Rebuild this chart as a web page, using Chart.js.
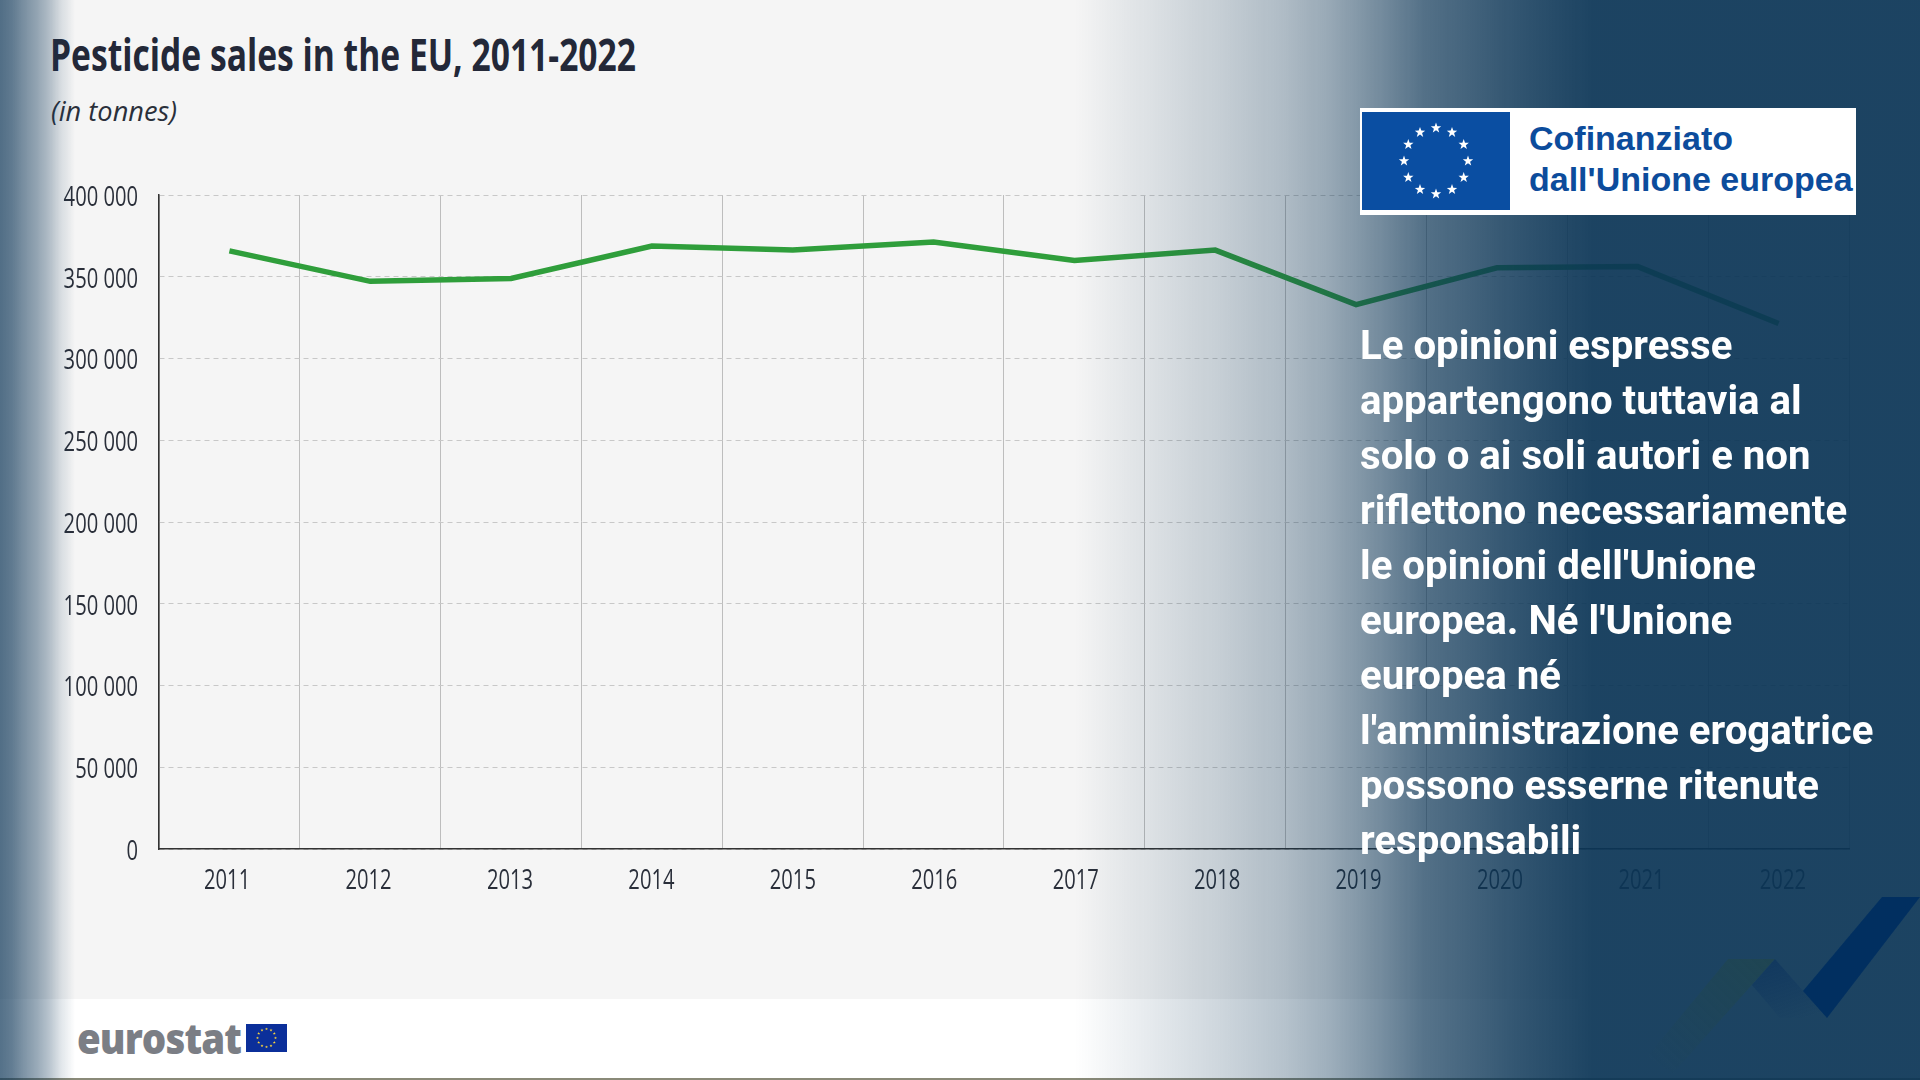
<!DOCTYPE html>
<html lang="en">
<head>
  <meta charset="UTF-8" />
  <title>Pesticide sales in the EU, 2011-2022</title>
  <script src="https://cdn.jsdelivr.net/npm/chart.js"></script>
  <style>
    html, body { margin: 0; padding: 0; }
    body { position: relative; width: 1920px; height: 1080px; overflow: hidden; background: #f5f5f5; }
    .abs { position: absolute; white-space: nowrap; }
    #footer { left: 0; top: 999px; width: 1920px; height: 79px; background: #fff; }
    #strip { left: 0; top: 1078px; width: 1920px; height: 2px; background: #8a8a78; }
    #title { left: 50px; top: 24px; font: bold 44px "Open Sans", sans-serif; color: #232838; transform-origin: 0 0; }
    #sub { left: 51px; top: 92px; font: italic 27px "Open Sans", sans-serif; color: #2a2f3a; transform-origin: 0 0; }
    #wrap { left: 0; top: 0; width: 1920px; height: 1080px; }
    #fadeRight { left: 0; top: 0; width: 1920px; height: 1080px;
      background: linear-gradient(90deg,
        rgba(11,53,86,0) 1075px, rgba(11,53,86,.2) 1219px, rgba(11,53,86,.30) 1285px,
        rgba(11,53,86,.40) 1330px, rgba(11,53,86,.55) 1380px, rgba(11,53,86,.69) 1424px,
        rgba(11,53,86,.84) 1518px, rgba(11,53,86,.93) 1593px, rgba(11,53,86,.93) 1920px); }
    #fadeLeft { left: 0; top: 0; width: 80px; height: 1080px;
      background: linear-gradient(90deg,
        rgba(18,58,91,.72) 0, rgba(18,58,91,.66) 12px, rgba(18,58,91,.54) 24px,
        rgba(18,58,91,.43) 37px, rgba(18,58,91,.30) 49px, rgba(18,58,91,.13) 61px, rgba(18,58,91,0) 75px); }
    #arrow { left: 0; top: 0; }
    #cofund { left: 1360px; top: 108px; width: 496px; height: 107px; background: #fff; }
    #cofund svg { position: absolute; left: 2px; top: 4px; }
    #cofund div { position: absolute; left: 169px; font: bold 34px "Liberation Sans", Arial, sans-serif; color: #0c4c9c; white-space: nowrap; }
    #note { left: 1360px; top: 318px; font: bold 40.2px/55px Roboto, sans-serif; color: #fff; }
    #brand { left: 77px; top: 1009px; font: 800 42px "Open Sans", sans-serif; color: #7b7e85; transform-origin: 0 0; letter-spacing: -1px; }
    #brandFlag { left: 246px; top: 1024px; }
  </style>
</head>
<body>
  <div class="abs" id="footer"></div>
  <div class="abs" id="strip"></div>
  <div class="abs" id="title">Pesticide sales in the EU, 2011-2022</div>
  <div class="abs" id="sub">(in tonnes)</div>
  <div class="abs" id="brand">eurostat</div>
  <svg class="abs" id="brandFlag" width="41" height="28"></svg>
  <div class="abs" id="wrap"><canvas id="salesChart" width="1920" height="1080"></canvas></div>
  <div class="abs" id="fadeRight"></div>
  <div class="abs" id="fadeLeft"></div>

  <svg class="abs" id="arrow" width="1920" height="1080">
    <defs>
      <linearGradient id="greenFade" x1="1660" y1="1070" x2="1770" y2="960" gradientUnits="userSpaceOnUse">
        <stop offset="0" stop-color="#1f4552" stop-opacity="0" />
        <stop offset="1" stop-color="#1f4552" />
      </linearGradient>
      <linearGradient id="midFade" x1="1780" y1="960" x2="1800" y2="1020" gradientUnits="userSpaceOnUse">
        <stop offset="0" stop-color="#12395f" />
        <stop offset="1" stop-color="#12395f" stop-opacity="0" />
      </linearGradient>
    </defs>
    <polygon points="1728,959 1775,959 1673,1073 1647,1057" fill="url(#greenFade)" />
    <polygon points="1752,985 1775,959 1827,1018 1780,1018" fill="url(#midFade)" />
    <polygon points="1882,897 1920,897 1827,1018 1803,991" fill="#012f60" />
  </svg>

  <div class="abs" id="cofund">
    <svg id="cofundFlag" width="148" height="98"></svg>
    <div style="top:11px">Cofinanziato</div>
    <div style="top:52px">dall'Unione europea</div>
  </div>

  <div class="abs" id="note">Le opinioni espresse<br>appartengono tuttavia al<br>solo o ai soli autori e non<br>riflettono necessariamente<br>le opinioni dell'Unione<br>europea. Né l'Unione<br>europea né<br>l'amministrazione erogatrice<br>possono esserne ritenute<br>responsabili</div>

  <script>
    const years = ["2011", "2012", "2013", "2014", "2015", "2016", "2017", "2018", "2019", "2020", "2021", "2022"];
    const tonnes = [365800, 347200, 349000, 368800, 366300, 371200, 360000, 366300, 333000, 355500, 356200, 321400];
    const yMax = 400000;
    const yStep = 50000;

    const tickFontCss = '28px "Open Sans", sans-serif';
    const tickColor = "#2a2f3a";
    const tickSqueeze = 0.72;

    // squeeze the Open Sans text to the condensed width of the original
    function fitWidth(id, target) {
      const el = document.getElementById(id);
      el.style.transform = "scaleX(" + target / el.offsetWidth + ")";
    }
    fitWidth("title", 586);
    fitWidth("sub", 126);
    fitWidth("brand", 164);

    function drawFlag(id, bg, starColor, starSize, ringX, ringY) {
      const svg = document.getElementById(id);
      const w = +svg.getAttribute("width");
      const h = +svg.getAttribute("height");
      let out = '<rect width="' + w + '" height="' + h + '" fill="' + bg + '"/>';
      for (let i = 0; i < 12; i++) {
        const a = i * Math.PI / 6;
        const cx = w / 2 + ringX * Math.cos(a);
        const cy = h / 2 + ringY * Math.sin(a);
        let pts = "";
        for (let k = 0; k < 10; k++) {
          const r = k % 2 ? starSize * 0.4 : starSize;
          const b = -Math.PI / 2 + k * Math.PI / 5;
          pts += (cx + r * Math.cos(b)).toFixed(1) + "," + (cy + r * Math.sin(b)).toFixed(1) + " ";
        }
        out += '<polygon points="' + pts + '" fill="' + starColor + '"/>';
      }
      svg.innerHTML = out;
    }
    drawFlag("cofundFlag", "#0a4ea2", "#fff", 5.5, 32, 33);
    drawFlag("brandFlag", "#0b2f9a", "#ffd83a", 1.6, 9, 9);

    // no condensed font is installed, so the tick labels are drawn narrowed
    const squeezedTicks = {
      id: "squeezedTicks",
      afterDraw(chart) {
        const { ctx, scales } = chart;
        const label = (text, px, py, align) => {
          ctx.save();
          ctx.translate(px, py);
          ctx.scale(tickSqueeze, 1);
          ctx.font = tickFontCss;
          ctx.fillStyle = tickColor;
          ctx.textBaseline = "middle";
          ctx.textAlign = align;
          ctx.fillText(text, 0, 0);
          ctx.restore();
        };
        scales.x.ticks.forEach((t, i) => {
          // labels in the original are spaced a little wider than the points
          label(t.label, scales.x.getPixelForTick(i) + 1 + (i - 5.5) * 0.6, 881, "center");
        });
        scales.y.ticks.forEach((t, i) => {
          label(t.label, 138, scales.y.getPixelForTick(i) + 3, "right");
        });
      }
    };

    new Chart(document.getElementById("salesChart").getContext("2d"), {
      type: "line",
      data: {
        labels: years,
        datasets: [{
          label: "Pesticide sales",
          data: tonnes,
          borderColor: "#2f9e3b",
          borderWidth: 5.5,
          pointRadius: 0,
          tension: 0,
          fill: false
        }]
      },
      plugins: [squeezedTicks],
      options: {
        responsive: false,
        animation: false,
        layout: { padding: { top: 195, right: 71, left: 0, bottom: 0 } },
        plugins: { legend: { display: false }, tooltip: { enabled: false } },
        scales: {
          x: {
            offset: true,
            grid: { offset: true, color: "#bdbdbd", lineWidth: 1, drawTicks: false },
            border: { color: "#333", width: 1.5 },
            ticks: { display: false },
            afterFit(scale) { scale.height = 231; }
          },
          y: {
            min: 0,
            max: yMax,
            grid: { color: "#c8c8c8", lineWidth: 1, drawTicks: false },
            border: { color: "#333", width: 1.5, dash: [5, 4] },
            ticks: {
              display: false,
              stepSize: yStep,
              callback: v => String(v).replace(/\B(?=(\d{3})+$)/g, " ")
            },
            afterFit(scale) { scale.width = 159; }
          }
        }
      }
    });
  </script>
</body>
</html>
